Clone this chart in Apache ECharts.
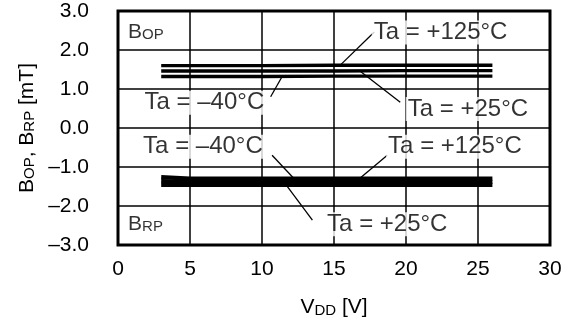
<!DOCTYPE html>
<html lang="en">
<head>
    <meta charset="UTF-8">
    <title>BOP, BRP vs VDD</title>
    <style>
        html, body { margin: 0; padding: 0; background: #fff; }
    </style>
</head>
<body>
    <div id="chart" style="width:574px; height:323px"></div>

    <script src="https://cdn.jsdelivr.net/npm/echarts@6/dist/echarts.min.js"></script>
    <script>
        // supply voltage samples [V]
        const vdd = [3, 5, 10, 15, 20, 25, 26];

        // operate point BOP [mT]
        const bop125 = [1.60, 1.60, 1.60, 1.61, 1.61, 1.61, 1.61];
        const bop25 = [1.46, 1.46, 1.46, 1.46, 1.47, 1.47, 1.47];
        const bopM40 = [1.32, 1.32, 1.32, 1.33, 1.33, 1.33, 1.33];

        // release point BRP [mT]
        const brp125 = [-1.26, -1.30, -1.30, -1.30, -1.30, -1.30, -1.30];
        const brp25 = [-1.36, -1.38, -1.38, -1.38, -1.38, -1.38, -1.38];
        const brpM40 = [-1.46, -1.46, -1.46, -1.46, -1.46, -1.46, -1.46];

        // annotation texts and where they sit, in data units
        const notes = [
            { text: 'Ta = +125°C', at: [22.4, 2.45] },
            { text: 'Ta = –40°C', at: [6.0, 0.65] },
            { text: 'Ta = +25°C', at: [24.3, 0.49] },
            { text: 'Ta = –40°C', at: [5.9, -0.48] },
            { text: 'Ta = +125°C', at: [23.4, -0.48] },
            { text: 'Ta = +25°C', at: [18.7, -2.47] }
        ];
        const leaders = [
            [[17.8, 2.46], [15.4, 1.60]],
            [[16.8, 1.46], [19.6, 0.66]],
            [[11.4, 1.32], [10.6, 0.80]],
            [[10.7, -0.70], [12.2, -1.29]],
            [[11.7, -1.47], [13.5, -2.36]],
            [[18.7, -0.70], [16.8, -1.29]]
        ];

        const font = '"Liberation Sans", Arial, sans-serif';
        const chart = echarts.init(document.getElementById('chart'));

        const curve = (vals, w) => ({
            type: 'line',
            data: vdd.map((v, i) => [v, vals[i]]),
            symbol: 'none',
            silent: true,
            lineStyle: { color: '#000', width: w },
            z: 5
        });

        const leaderSeries = leaders.map(seg => ({
            type: 'line',
            data: seg,
            symbol: 'none',
            silent: true,
            lineStyle: { color: '#000', width: 1.3 },
            z: 4
        }));

        const capsRich = {
            b: { fontSize: 21, fontFamily: font, color: '#000', verticalAlign: 'bottom', lineHeight: 23 },
            s: { fontSize: 15, fontFamily: font, color: '#000', verticalAlign: 'bottom', lineHeight: 20 }
        };

        chart.setOption({
            animation: false,
            grid: {
                left: 118, right: 24, top: 11, bottom: 76,
                show: true, borderColor: '#000', borderWidth: 3
            },
            xAxis: {
                type: 'value', min: 0, max: 30, interval: 5,
                axisLine: { show: false },
                axisTick: { show: false },
                splitLine: { lineStyle: { color: '#000', width: 1.5 } },
                axisLabel: { color: '#000', fontSize: 21, fontFamily: font, margin: 14 },
                name: '{b|V}{s|DD}{b| [V]}',
                nameLocation: 'middle',
                nameGap: 50,
                nameTextStyle: { rich: capsRich }
            },
            yAxis: {
                type: 'value', min: -3, max: 3, interval: 1,
                axisLine: { show: false },
                axisTick: { show: false },
                splitLine: { lineStyle: { color: '#000', width: 1.5 } },
                axisLabel: {
                    color: '#000', fontSize: 21, fontFamily: font, margin: 29,
                    formatter: v => v.toFixed(1).replace('-', '–')
                },
                name: '{b|B}{s|OP}{b|, B}{s|RP}{b| [mT]}',
                nameLocation: 'middle',
                nameRotate: 90,
                nameGap: 70,
                nameTextStyle: { rich: capsRich }
            },
            series: [
                curve(bop125, 3.4), curve(bop25, 3.4), curve(bopM40, 3.4),
                curve(brp125, 4.2), curve(brp25, 4.2), curve(brpM40, 4.2),
                ...leaderSeries,
                {
                    type: 'scatter',
                    symbolSize: 0,
                    silent: true,
                    z: 6,
                    data: notes.map(n => ({ value: n.at, name: n.text })),
                    label: {
                        show: true,
                        position: 'inside',
                        formatter: p => p.name,
                        color: '#000',
                        fontSize: 24,
                        fontFamily: font,
                        backgroundColor: '#fff',
                        padding: [0, 2]
                    }
                },
                {
                    type: 'scatter',
                    symbolSize: 0,
                    silent: true,
                    z: 6,
                    data: [
                        { value: [0.7, 2.49], name: '{b|B}{s|OP}' },
                        { value: [0.7, -2.44], name: '{b|B}{s|RP}' }
                    ],
                    label: {
                        show: true,
                        position: 'right',
                        distance: 0,
                        formatter: p => p.name,
                        rich: capsRich
                    }
                }
            ]
        });
    </script>
</body>
</html>
